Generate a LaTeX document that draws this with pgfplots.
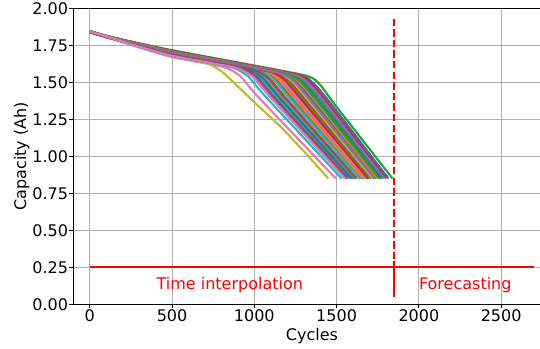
\documentclass[border=0pt]{standalone}
\usepackage{pgfplots}
\pgfplotsset{compat=1.18}
\usepackage{fontspec}
\setmainfont{DejaVu Sans}
\newcommand\fs{\fontsize{16bp}{19bp}\selectfont}
\definecolor{C0}{HTML}{1F77B4}
\definecolor{C1}{HTML}{FF7F0E}
\definecolor{C2}{HTML}{2CA02C}
\definecolor{C3}{HTML}{D62728}
\definecolor{C4}{HTML}{9467BD}
\definecolor{C5}{HTML}{8C564B}
\definecolor{C6}{HTML}{E377C2}
\definecolor{C7}{HTML}{7F7F7F}
\definecolor{C8}{HTML}{BCBD22}
\definecolor{C9}{HTML}{17BECF}
\definecolor{gridc}{HTML}{B0B0B0}
\begin{document}
\begin{tikzpicture}
\useasboundingbox (-73.3bp,-44.7bp) rectangle (466.7bp,304.3bp);
\begin{axis}[
  at={(0,0)}, anchor=south west,
  scale only axis, width=477.2bp, height=296bp,
  xmin=-100, xmax=2800, ymin=0, ymax=2,
  xtick={0,500,1000,1500,2000,2500},
  ytick={0,0.25,0.5,0.75,1,1.25,1.5,1.75,2},
  tick pos=left, tick align=outside,
  major tick length=4bp,
  every tick/.style={black, line width=0.8bp},
  axis line style={black, line width=0.8bp},
  grid=major,
  major grid style={color=gridc, line width=0.8bp},
  /pgf/number format/assume math mode=true,
  /pgf/number format/1000 sep={},
  tick label style={font=\fs},
  yticklabel style={/pgf/number format/fixed, /pgf/number format/fixed zerofill, /pgf/number format/precision=2, inner sep=0pt, xshift=-1bp},
  xticklabel style={inner sep=0pt, yshift=-1bp},
  label style={font=\fs},
  xlabel={Cycles},
  ylabel={Capacity (Ah)},
  xlabel style={at={(axis description cs:0.5,-0.1206)}, anchor=base, inner sep=0pt},
  ylabel style={at={(axis description cs:-0.0987,0.5)}, anchor=base, inner sep=0pt},
  clip=false,
  every axis plot/.append style={line width=2.1bp, line join=round},
  cap/.style={smooth, tension=0.3},
]
\addplot[C0,cap] coordinates {(0,1.846)(100,1.813)(250,1.774)(500,1.712)(1261,1.552)(1361,1.492)(1461,1.362)(1815,0.85)};
\addplot[C1,cap] coordinates {(0,1.843)(100,1.810)(250,1.765)(500,1.695)(1086,1.572)(1186,1.512)(1286,1.382)(1690,0.85)};
\addplot[C2,cap] coordinates {(0,1.847)(100,1.814)(250,1.776)(500,1.717)(1296,1.550)(1396,1.488)(1496,1.340)(1840,0.85)};
\addplot[C3,cap] coordinates {(0,1.845)(100,1.812)(250,1.772)(500,1.709)(1184,1.565)(1284,1.505)(1384,1.375)(1760,0.85)};
\addplot[C4,cap] coordinates {(0,1.840)(100,1.807)(250,1.760)(500,1.685)(988,1.583)(1088,1.523)(1188,1.393)(1620,0.85)};
\addplot[C5,cap] coordinates {(0,1.838)(100,1.805)(250,1.763)(500,1.690)(1030,1.579)(1130,1.519)(1230,1.389)(1650,0.85)};
\addplot[C6,cap] coordinates {(0,1.842)(100,1.808)(250,1.753)(500,1.670)(813,1.604)(913,1.544)(1013,1.414)(1495,0.85)};
\addplot[C7,cap] coordinates {(0,1.844)(100,1.811)(250,1.768)(500,1.701)(1100,1.575)(1200,1.515)(1300,1.385)(1700,0.85)};
\addplot[C8,cap] coordinates {(0,1.838)(100,1.805)(250,1.758)(500,1.675)(720,1.625)(800,1.575)(860,1.515)(1000,1.365)(1160,1.200)(1300,1.035)(1450,0.85)};
\addplot[C9,cap] coordinates {(0,1.841)(100,1.808)(250,1.756)(500,1.677)(862,1.601)(962,1.541)(1062,1.411)(1530,0.85)};
\addplot[C0,cap] coordinates {(0,1.845)(100,1.812)(250,1.770)(500,1.705)(1156,1.567)(1256,1.507)(1356,1.377)(1740,0.85)};
\addplot[C1,cap] coordinates {(0,1.842)(100,1.809)(250,1.762)(500,1.689)(960,1.592)(1060,1.532)(1160,1.402)(1600,0.85)};
\addplot[C2,cap] coordinates {(0,1.846)(100,1.813)(250,1.773)(500,1.711)(1212,1.562)(1312,1.502)(1412,1.372)(1780,0.85)};
\addplot[C3,cap] coordinates {(0,1.843)(100,1.810)(250,1.766)(500,1.697)(1114,1.568)(1214,1.508)(1314,1.378)(1710,0.85)};
\addplot[C4,cap] coordinates {(0,1.840)(100,1.807)(250,1.758)(500,1.680)(904,1.595)(1004,1.535)(1104,1.405)(1560,0.85)};
\addplot[C5,cap] coordinates {(0,1.839)(100,1.806)(250,1.767)(500,1.699)(1072,1.579)(1172,1.519)(1272,1.389)(1680,0.85)};
\addplot[C6,cap] coordinates {(0,1.844)(100,1.811)(250,1.762)(500,1.688)(1016,1.580)(1116,1.520)(1216,1.390)(1640,0.85)};
\addplot[C7,cap] coordinates {(0,1.841)(100,1.808)(250,1.759)(500,1.683)(946,1.589)(1046,1.529)(1146,1.399)(1590,0.85)};
\addplot[C8,cap] coordinates {(0,1.843)(100,1.810)(250,1.766)(500,1.696)(1044,1.582)(1144,1.522)(1244,1.392)(1660,0.85)};
\addplot[C9,cap] coordinates {(0,1.840)(100,1.807)(250,1.761)(500,1.687)(932,1.596)(1032,1.536)(1132,1.406)(1580,0.85)};
\addplot[C0,cap] coordinates {(0,1.845)(100,1.812)(250,1.770)(500,1.705)(1198,1.558)(1298,1.498)(1398,1.368)(1770,0.85)};
\addplot[C1,cap] coordinates {(0,1.842)(100,1.809)(250,1.764)(500,1.693)(988,1.591)(1088,1.531)(1188,1.401)(1620,0.85)};
\addplot[C2,cap] coordinates {(0,1.844)(100,1.811)(250,1.769)(500,1.703)(1142,1.568)(1242,1.508)(1342,1.378)(1730,0.85)};
\addplot[C3,cap] coordinates {(0,1.846)(100,1.813)(250,1.774)(500,1.713)(1240,1.558)(1340,1.498)(1440,1.368)(1800,0.85)};
\addplot[C4,cap] coordinates {(0,1.841)(100,1.808)(250,1.763)(500,1.691)(1058,1.574)(1158,1.514)(1258,1.384)(1670,0.85)};
\addplot[C5,cap] coordinates {(0,1.839)(100,1.806)(250,1.760)(500,1.685)(960,1.588)(1060,1.528)(1160,1.398)(1600,0.85)};
\addplot[C6,cap] coordinates {(0,1.844)(100,1.811)(250,1.767)(500,1.699)(1128,1.567)(1228,1.507)(1328,1.377)(1720,0.85)};
\addplot[C7,cap] coordinates {(0,1.842)(100,1.809)(250,1.765)(500,1.695)(1030,1.584)(1130,1.524)(1230,1.394)(1650,0.85)};
\addplot[C8,cap] coordinates {(0,1.840)(100,1.807)(250,1.760)(500,1.684)(974,1.585)(1074,1.525)(1174,1.395)(1610,0.85)};
\addplot[C9,cap] coordinates {(0,1.843)(100,1.810)(250,1.768)(500,1.701)(1086,1.578)(1186,1.518)(1286,1.388)(1690,0.85)};
\addplot[C0,cap] coordinates {(0,1.842)(100,1.809)(250,1.764)(500,1.692)(1044,1.578)(1144,1.518)(1244,1.388)(1660,0.85)};
\addplot[C1,cap] coordinates {(0,1.845)(100,1.812)(250,1.771)(500,1.707)(1170,1.566)(1270,1.506)(1370,1.376)(1750,0.85)};
\addplot[C2,cap] coordinates {(0,1.843)(100,1.810)(250,1.766)(500,1.697)(1100,1.571)(1200,1.511)(1300,1.381)(1700,0.85)};
\addplot[C3,cap] coordinates {(0,1.842)(100,1.809)(250,1.765)(500,1.694)(1016,1.586)(1116,1.526)(1216,1.396)(1640,0.85)};
\addplot[C4,cap] coordinates {(0,1.845)(100,1.812)(250,1.772)(500,1.708)(1226,1.556)(1326,1.496)(1426,1.366)(1790,0.85)};
\addplot[C5,cap] coordinates {(0,1.839)(100,1.806)(250,1.759)(500,1.682)(918,1.594)(1018,1.534)(1118,1.404)(1570,0.85)};
\addplot[C6,cap] coordinates {(0,1.844)(100,1.811)(250,1.765)(500,1.695)(1072,1.575)(1172,1.515)(1272,1.385)(1680,0.85)};
\addplot[C7,cap] coordinates {(0,1.841)(100,1.808)(250,1.763)(500,1.690)(974,1.591)(1074,1.531)(1174,1.401)(1610,0.85)};
\addplot[C8,cap] coordinates {(0,1.843)(100,1.810)(250,1.769)(500,1.703)(1128,1.571)(1228,1.511)(1328,1.381)(1720,0.85)};
\addplot[C9,cap] coordinates {(0,1.842)(100,1.809)(250,1.763)(500,1.690)(1016,1.582)(1116,1.522)(1216,1.392)(1640,0.85)};
\addplot[C0,cap] coordinates {(0,1.841)(100,1.808)(250,1.762)(500,1.688)(946,1.594)(1046,1.534)(1146,1.404)(1590,0.85)};
\addplot[C1,cap] coordinates {(0,1.843)(100,1.810)(250,1.765)(500,1.695)(1044,1.581)(1144,1.521)(1244,1.391)(1660,0.85)};
\addplot[C2,cap] coordinates {(0,1.845)(100,1.812)(250,1.770)(500,1.704)(1184,1.560)(1284,1.500)(1384,1.370)(1760,0.85)};
\addplot[C3,cap] coordinates {(0,1.842)(100,1.809)(250,1.766)(500,1.696)(1086,1.573)(1186,1.513)(1286,1.383)(1690,0.85)};
\addplot[C4,cap] coordinates {(0,1.844)(100,1.811)(250,1.768)(500,1.700)(1142,1.565)(1242,1.505)(1342,1.375)(1730,0.85)};
\addplot[C5,cap] coordinates {(0,1.838)(100,1.805)(250,1.762)(500,1.689)(988,1.587)(1088,1.527)(1188,1.397)(1620,0.85)};
\addplot[C6,cap] coordinates {(0,1.843)(100,1.810)(250,1.757)(500,1.679)(890,1.597)(990,1.537)(1090,1.407)(1550,0.85)};
% red markers
\addplot[red, line width=2bp] coordinates {(0,0.25)(2700,0.25)};
\addplot[red, line width=2bp] coordinates {(1850,0.05)(1850,0.29)};
\addplot[red, line width=2bp, dash pattern=on 7.4bp off 3.2bp] coordinates {(1850,1.93)(1850,0.25)};
\node[anchor=base west, text=red, inner sep=0pt, font=\fs] at (axis cs:405,0.10) {Time interpolation};
\node[anchor=base west, text=red, inner sep=0pt, font=\fs] at (axis cs:2000,0.10) {Forecasting};
\end{axis}
\end{tikzpicture}
\end{document}
